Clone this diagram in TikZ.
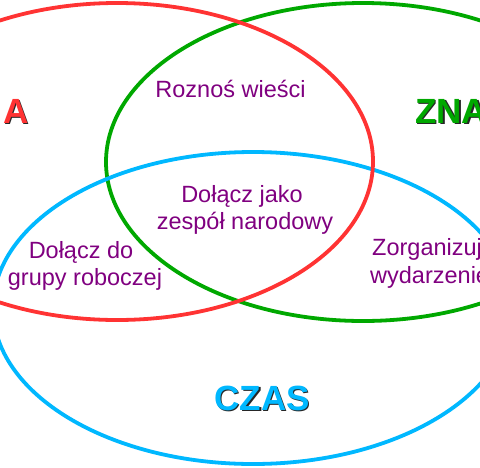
\documentclass[tikz,border=0pt]{standalone}
\usepackage{fontspec}
\setmainfont{Liberation Sans}
\definecolor{cred}{HTML}{FF3333}
\definecolor{cgreen}{HTML}{00A800}
\definecolor{cblue}{HTML}{00B8FF}
\definecolor{lbl}{HTML}{800080}
\begin{document}
\begin{tikzpicture}[x=1pt,y=-1pt,
  ring/.style={line width=3.8pt},
  lab/.style={inner sep=0pt, text=lbl, font=\fontsize{23.5}{28}\selectfont, anchor=base},
  big/.style={inner sep=0pt, font=\fontsize{35}{40}\selectfont\bfseries},
  shad/.style={big, text=black!85}]
\useasboundingbox (0,0) rectangle (480,467);
\fill[white] (0,0) rectangle (480,467);
% ellipses
\draw[ring, cgreen] (363,162) ellipse [x radius=257pt, y radius=159pt];
\draw[ring, cblue] (253,308) ellipse [x radius=260pt, y radius=156pt];
\draw[ring, cred] (117,161.5) ellipse [x radius=256pt, y radius=158.5pt];
% big labels with shadow
\node[shad, anchor=base west] (sA) at (4.5,124.5) {A};
\node[big, text=cred, anchor=base west] (tA) at (3,123) {A};
\node[shad, anchor=base west] (sZ) at (416.5,124.5) {ZNA};
\node[big, text=cgreen, anchor=base west] (tZ) at (415,123) {ZNA};
\node[shad, anchor=base] (sC) at (263.5,411.5) {CZAS};
\node[big, text=cblue, anchor=base] (tC) at (262,410) {CZAS};
% region labels
\node[lab] (r1) at (230.5,97.5) {Roznoś wieści};
\node[lab] (c1) at (242,202) {Dołącz jako};
\node[lab] (c2) at (245,229.5) {zespół narodowy};
\node[lab] (g1) at (81,258) {Dołącz do};
\node[lab] (g2) at (85,285.5) {grupy roboczej};
\node[lab, anchor=base west] (z1) at (372,255) {Zorganizuj};
\node[lab, anchor=base west] (z2) at (370,283) {wydarzenie};
\end{tikzpicture}
\end{document}
